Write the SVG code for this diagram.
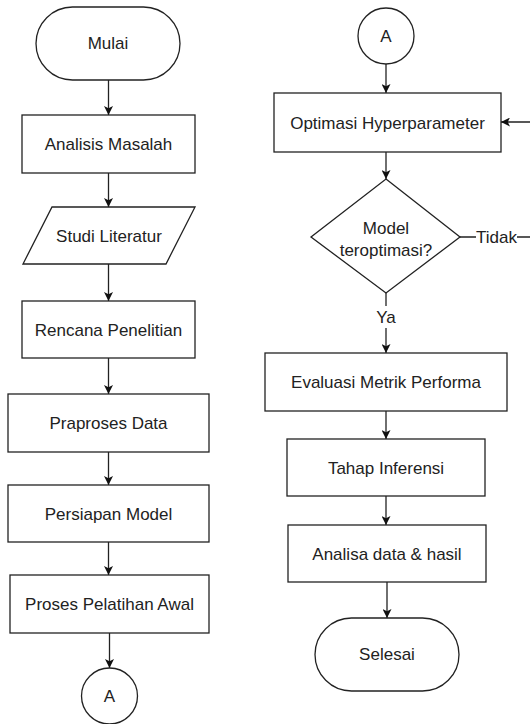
<svg xmlns="http://www.w3.org/2000/svg" width="530" height="724" viewBox="0 0 530 724">
<defs>
<marker id="arr" viewBox="0 0 10 10" refX="10" refY="5" markerWidth="9" markerHeight="9" markerUnits="userSpaceOnUse" orient="auto">
<path d="M0,0 L10,5 L0,10 L2.5,5 z" fill="#111"/>
</marker>
<style>
.s{fill:#fff;stroke:#222;stroke-width:1.3}
.t{font-family:"Liberation Sans",Arial,sans-serif;font-size:17px;fill:#222;text-anchor:middle}
.c{fill:none;stroke:#222;stroke-width:1.3;marker-end:url(#arr)}
.l{fill:none;stroke:#222;stroke-width:1.3}
</style>
</defs>
<rect width="530" height="724" fill="#fff"/>
<g id="connectors">
<path class="c" d="M108.5,80 V115"/>
<path class="c" d="M108.5,173 V207"/>
<path class="c" d="M108.5,264 V301"/>
<path class="c" d="M108.5,358 V394"/>
<path class="c" d="M108.5,452 V485"/>
<path class="c" d="M108.5,542 V575"/>
<path class="c" d="M109.5,633 V668"/>
<path class="c" d="M386,64 V93"/>
<path class="c" d="M386,152 V179"/>
<path class="c" d="M386,293 V353"/>
<path class="c" d="M386,411 V439"/>
<path class="c" d="M386,496 V525"/>
<path class="c" d="M387,582 V618"/>
<path class="c" d="M460,237 H545 V122 H501"/>
<rect x="372" y="306" width="28" height="22" fill="#fff"/>
<text class="t" x="386" y="323">Ya</text>
<rect x="476" y="227" width="41" height="20" fill="#fff"/>
<text class="t" x="496.5" y="243">Tidak</text>
</g>
<g id="mulai"><rect class="s" x="36" y="7" width="144" height="73" rx="36.5" ry="36.5"/><text class="t" x="108" y="49">Mulai</text></g>
<g id="analisis"><rect class="s" x="22" y="115" width="173" height="58"/><text class="t" x="108.5" y="150">Analisis Masalah</text></g>
<g id="studi"><polygon class="s" points="52,207 195,207 166,264 23,264"/><text class="t" x="109" y="242">Studi Literatur</text></g>
<g id="rencana"><rect class="s" x="22" y="301" width="173" height="57"/><text class="t" x="108.5" y="335.5">Rencana Penelitian</text></g>
<g id="praproses"><rect class="s" x="8" y="394" width="201" height="58"/><text class="t" x="108.5" y="429">Praproses Data</text></g>
<g id="persiapan"><rect class="s" x="8" y="485" width="201" height="57"/><text class="t" x="108.5" y="519.5">Persiapan Model</text></g>
<g id="proses"><rect class="s" x="10" y="575" width="199" height="58"/><text class="t" x="109.5" y="610">Proses Pelatihan Awal</text></g>
<g id="a-bottom"><circle class="s" cx="109.5" cy="696" r="28"/><text class="t" x="109.5" y="702">A</text></g>
<g id="a-top"><circle class="s" cx="386" cy="36" r="28"/><text class="t" x="386" y="42">A</text></g>
<g id="optimasi"><rect class="s" x="274" y="93" width="227" height="59"/><text class="t" x="387.5" y="128.5">Optimasi Hyperparameter</text></g>
<g id="decision"><polygon class="s" points="386,179 460,237 386,293 311,237"/><text class="t" x="386" y="234">Model</text><text class="t" x="386" y="256">teroptimasi?</text></g>
<g id="evaluasi"><rect class="s" x="265" y="353" width="242" height="58"/><text class="t" x="386" y="388">Evaluasi Metrik Performa</text></g>
<g id="tahap"><rect class="s" x="287" y="439" width="198" height="57"/><text class="t" x="386" y="473.5">Tahap Inferensi</text></g>
<g id="analisa"><rect class="s" x="288" y="525" width="198" height="57"/><text class="t" x="387" y="559.5">Analisa data &amp; hasil</text></g>
<g id="selesai"><rect class="s" x="315" y="618" width="144" height="73" rx="36.5" ry="36.5"/><text class="t" x="387" y="660">Selesai</text></g>
</svg>
